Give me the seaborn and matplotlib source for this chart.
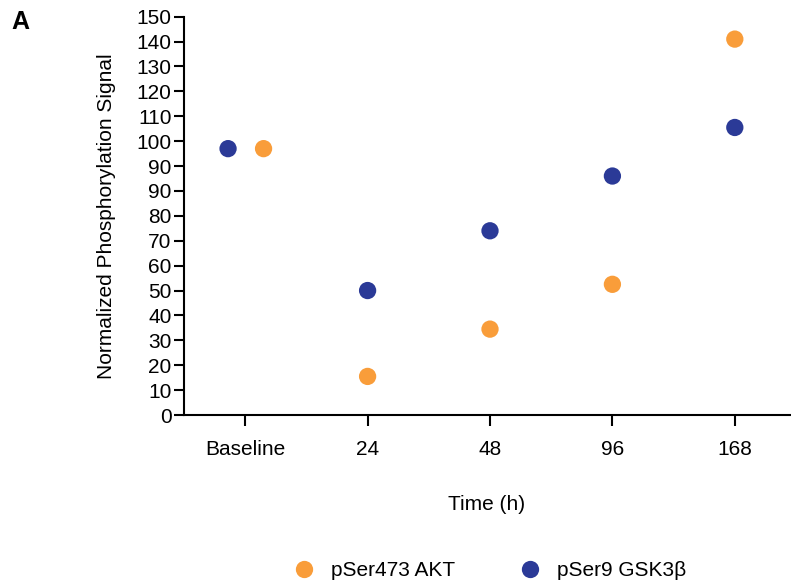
import pandas as pd
import matplotlib.pyplot as plt
import seaborn as sns

# data (in axis position units)
time_points = ["Baseline", "24", "48", "96", "168"]
akt_signal = [107, 15.5, 34.5, 52.5, 151]
gsk_signal = [107, 50, 74, 96, 115.5]
series_names = ["pSer473 AKT", "pSer9 GSK3\u03b2"]
# y tick labels as printed in the original (note the repeated 90)
ytick_labels = ["0", "10", "20", "30", "40", "50", "60", "70", "80",
                "90", "90", "100", "110", "120", "130", "140", "150"]

colors = {series_names[0]: "#F99D3A", series_names[1]: "#2B3A97"}
# small horizontal nudge so the overlapping baseline points are both visible
baseline_nudge = {series_names[0]: 0.15, series_names[1]: -0.14}

rows = []
for name, vals in zip(series_names, [akt_signal, gsk_signal]):
    for i, (t, v) in enumerate(zip(time_points, vals)):
        xpos = i + (baseline_nudge[name] if t == "Baseline" else 0)
        rows.append({"Time": t, "x": xpos, "Signal": v, "Series": name})
df = pd.DataFrame(rows)

sns.set_style("ticks")
plt.rcParams["font.family"] = ["Liberation Sans", "DejaVu Sans"]
plt.rcParams["text.color"] = "black"
plt.rcParams["axes.labelcolor"] = "black"
plt.rcParams["xtick.color"] = "black"
plt.rcParams["ytick.color"] = "black"

fig = plt.figure(figsize=(7.91, 5.88), dpi=100)
ax = fig.add_axes([0.2326, 0.2942, 0.766, 0.6774])

sns.scatterplot(data=df, x="x", y="Signal", hue="Series", palette=colors,
                s=155, linewidth=0, ax=ax, hue_order=series_names)

ax.set_xlim(-0.5, 4.45)
ax.set_ylim(0, 160)
ax.set_xticks(range(len(time_points)))
ax.set_xticklabels(time_points)
ax.set_yticks(range(0, 161, 10))
ax.set_yticklabels(ytick_labels)

sns.despine(ax=ax)
for s in ["left", "bottom"]:
    ax.spines[s].set_linewidth(1.5)
    ax.spines[s].set_color("black")
ax.tick_params(axis="y", length=7, width=1.5, labelsize=15, pad=2)
ax.tick_params(axis="x", length=8, width=1.5, labelsize=15, pad=10)

ax.set_xlabel("Time (h)", fontsize=15)
ax.set_ylabel("Normalized Phosphorylation Signal", fontsize=15)
ax.xaxis.set_label_coords(0.5, -0.2)
ax.yaxis.set_label_coords(-0.112, 0.5)

handles, labels = ax.get_legend_handles_labels()
ax.get_legend().remove()
fig.legend(handles, labels, loc="center", bbox_to_anchor=(0.613, 0.029), ncol=2,
           frameon=False, fontsize=15, markerscale=1.0, handletextpad=0.3,
           columnspacing=2.6)

fig.text(0.015, 0.962, "A", fontsize=18, fontweight="bold", va="center")

plt.savefig("out.png", dpi=100)
